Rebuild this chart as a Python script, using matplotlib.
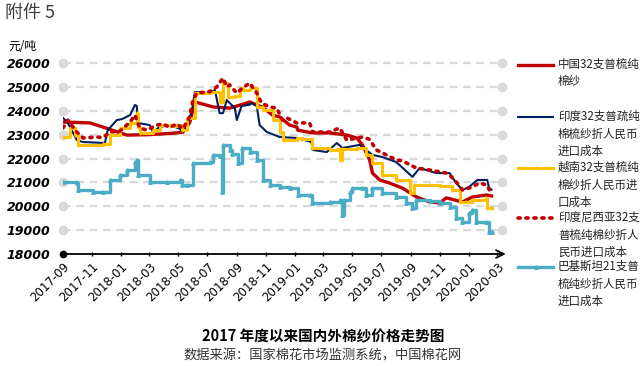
import pandas as pd
import matplotlib.pyplot as plt
import matplotlib.dates as mdates
from matplotlib.lines import Line2D

plt.rcParams['font.family'] = ['DejaVu Sans', 'Noto Sans CJK SC']
CJK = ['Noto Sans CJK SC', 'DejaVu Sans']

# 中国32支普梳纯棉纱
cn_dates = ['2017-09-01', '2017-10-28', '2017-12-04', '2018-01-13', '2018-03-01', '2018-04-15',
            '2018-05-11', '2018-05-25', '2018-06-05', '2018-07-13', '2018-08-17', '2018-09-22',
            '2018-09-28', '2018-10-13', '2018-10-25', '2018-11-15', '2018-11-30', '2018-12-21',
            '2019-01-05', '2019-01-07', '2019-02-07', '2019-03-15', '2019-04-20', '2019-05-11',
            '2019-05-23', '2019-06-07', '2019-06-13', '2019-06-28', '2019-07-19', '2019-08-15',
            '2019-09-13', '2019-10-11', '2019-11-01', '2019-11-15', '2019-12-19', '2020-01-09',
            '2020-02-07', '2020-02-18']
cn_vals = [23530, 23490, 23250, 22980, 23000, 23050,
           23100, 23500, 24370, 24160, 24110, 24320,
           24370, 24240, 24150, 23820, 23740, 23400,
           23320, 23190, 23070, 23070, 22980, 22860,
           22570, 21940, 21390, 21100, 20970, 20760,
           20390, 20180, 20140, 20350, 20180, 20390,
           20470, 20430]

# 印度32支普疏纯棉梳纱折人民币进口成本
in_dates = ['2017-09-01', '2017-09-11', '2017-09-30', '2017-10-13', '2017-11-28', '2017-12-04',
            '2017-12-23', '2018-01-03', '2018-01-20', '2018-01-30', '2018-02-03', '2018-02-05',
            '2018-03-02', '2018-03-09', '2018-03-23', '2018-04-13', '2018-05-04', '2018-05-11',
            '2018-05-19', '2018-05-30', '2018-06-05', '2018-07-06', '2018-07-17', '2018-07-27',
            '2018-08-03', '2018-08-11', '2018-08-28', '2018-09-01', '2018-09-11', '2018-09-28',
            '2018-10-02', '2018-10-13', '2018-10-19', '2018-11-03', '2018-11-30', '2019-01-05',
            '2019-02-05', '2019-02-07', '2019-03-09', '2019-03-30', '2019-04-11', '2019-05-17',
            '2019-05-31', '2019-06-13', '2019-07-04', '2019-08-02', '2019-09-05', '2019-09-20',
            '2019-10-25', '2019-11-22', '2019-12-06', '2019-12-19', '2020-01-02', '2020-01-19',
            '2020-02-09', '2020-02-13', '2020-02-18']
in_vals = [23700, 23500, 22770, 22690, 22650, 23190,
           23610, 23650, 23820, 24240, 24200, 23490,
           23400, 23110, 23320, 23400, 23250, 23110,
           23320, 24030, 24790, 24740, 24870, 23900,
           23900, 24450, 24100, 23610, 24200, 24250,
           24320, 24200, 23400, 23110, 22900, 22860,
           22690, 22360, 22270, 22650, 22440, 22570,
           22350, 22150, 22060, 21850, 21230, 21600,
           21390, 21390, 20970, 20680, 20810, 21100,
           21100, 20760, 20700]

# 越南32支普梳纯棉纱折人民币进口成本
vn_dates = ['2017-09-01', '2017-09-16', '2017-09-26', '2017-10-02', '2017-11-24', '2017-12-09',
            '2017-12-30', '2018-01-20', '2018-02-03', '2018-02-05', '2018-02-09', '2018-03-09',
            '2018-03-23', '2018-04-13', '2018-04-28', '2018-05-09', '2018-05-19', '2018-06-05',
            '2018-06-22', '2018-07-06', '2018-07-27', '2018-08-03', '2018-08-13', '2018-08-28',
            '2018-09-07', '2018-09-13', '2018-09-28', '2018-10-13', '2018-10-25', '2018-11-15',
            '2018-11-30', '2018-12-06', '2019-01-05', '2019-01-17', '2019-02-07', '2019-03-15',
            '2019-03-30', '2019-04-05', '2019-04-11', '2019-05-11', '2019-05-31', '2019-06-13',
            '2019-07-04', '2019-08-02', '2019-08-30', '2019-09-09', '2019-10-11', '2019-11-01',
            '2019-11-28', '2019-12-13', '2019-12-27', '2020-01-09', '2020-02-07', '2020-02-09',
            '2020-02-18']
vn_vals = [22900, 23280, 23000, 22570, 22600, 22980,
           23280, 23490, 23900, 23300, 23070, 23190,
           23400, 23350, 23400, 23190, 23700, 24740,
           24740, 24790, 24370, 25160, 24580, 24600,
           24950, 24870, 24950, 24160, 24030, 23610,
           23110, 22770, 22860, 22800, 22440, 22360,
           22400, 21940, 22400, 22440, 22150, 21810,
           21310, 21100, 20560, 20890, 20890, 20850,
           20680, 20180, 20180, 20260, 20350, 19930,
           19930]

# 印度尼西亚32支普梳纯棉纱折人民币进口成本
id_dates = ['2017-09-01', '2017-09-11', '2017-09-30', '2017-10-13', '2017-11-11', '2017-11-24',
            '2017-12-09', '2017-12-30', '2018-01-20', '2018-01-30', '2018-02-09', '2018-02-24',
            '2018-03-17', '2018-03-30', '2018-04-13', '2018-04-28', '2018-05-11', '2018-05-25',
            '2018-06-01', '2018-06-09', '2018-07-06', '2018-07-21', '2018-08-03', '2018-08-11',
            '2018-08-17', '2018-09-01', '2018-09-13', '2018-09-28', '2018-10-13', '2018-10-23',
            '2018-11-09', '2018-11-24', '2018-12-06', '2018-12-15', '2019-01-05', '2019-02-01',
            '2019-02-07', '2019-03-15', '2019-04-05', '2019-04-20', '2019-05-23', '2019-06-07',
            '2019-06-21', '2019-07-12', '2019-08-02', '2019-08-15', '2019-09-13', '2019-10-11',
            '2019-11-15', '2019-11-22', '2019-12-08', '2019-12-19', '2020-01-09', '2020-01-23',
            '2020-02-09', '2020-02-18']
id_vals = [23280, 23610, 23110, 22860, 22900, 22880,
           23110, 23150, 23530, 23820, 23280, 23190,
           23400, 23450, 23300, 23450, 23250, 23740,
           24450, 24740, 24800, 25000, 25370, 25000,
           25080, 24740, 24950, 25160, 24740, 24320,
           24160, 24110, 23610, 23700, 23490, 23490,
           23110, 23110, 23280, 22770, 22900, 22800,
           22360, 22150, 21940, 21900, 21600, 21520,
           21390, 21310, 20970, 20680, 20810, 20970,
           20890, 20470]

# 巴基斯坦21支普梳纯纱折人民币进口成本
pk_dates = ['2017-09-01', '2017-09-30', '2017-10-02', '2017-11-03', '2017-11-24', '2017-12-09',
            '2017-12-30', '2018-01-13', '2018-01-30', '2018-02-03', '2018-02-05', '2018-03-02',
            '2018-04-07', '2018-05-04', '2018-05-09', '2018-05-19', '2018-06-01', '2018-07-06',
            '2018-07-13', '2018-07-27', '2018-07-31', '2018-08-03', '2018-08-17', '2018-08-21',
            '2018-09-03', '2018-09-11', '2018-09-28', '2018-10-13', '2018-10-25', '2018-11-09',
            '2018-11-30', '2018-12-21', '2019-01-07', '2019-02-01', '2019-02-07', '2019-03-15',
            '2019-04-05', '2019-04-09', '2019-04-15', '2019-04-26', '2019-05-02', '2019-05-23',
            '2019-05-31', '2019-06-13', '2019-07-04', '2019-08-02', '2019-08-23', '2019-09-05',
            '2019-09-13', '2019-10-11', '2019-11-01', '2019-11-22', '2019-12-06', '2019-12-19',
            '2020-01-02', '2020-01-09', '2020-01-17', '2020-02-07', '2020-02-13', '2020-02-18']
pk_vals = [21010, 20980, 20680, 20600, 20600, 21100,
           21310, 21520, 21850, 21940, 21310, 21010,
           21010, 21100, 20890, 20900, 21810, 21850,
           22150, 22100, 20600, 22570, 22360, 22200,
           21810, 22440, 22270, 21940, 21100, 20890,
           20810, 20760, 20470, 20470, 20140, 20180,
           20260, 19630, 20260, 20600, 20760, 20760,
           20470, 20760, 20560, 20390, 20140, 19930,
           20260, 20200, 20140, 19970, 19510, 19340,
           19720, 19840, 19340, 19340, 18920, 18920]

labels = ['中国32支普梳纯\n棉纱',
          '印度32支普疏纯\n棉梳纱折人民币\n进口成本',
          '越南32支普梳纯\n棉纱折人民币进\n口成本',
          '印度尼西亚32支\n普梳纯棉纱折人\n民币进口成本',
          '巴基斯坦21支普\n梳纯纱折人民币\n进口成本']

yticks = [18000, 19000, 20000, 21000, 22000, 23000, 24000, 25000, 26000]

fig = plt.figure(figsize=(6.43, 3.66), dpi=100)
ax = fig.add_axes([63 / 643, 1 - 254 / 366, (502 - 63) / 643, (254 - 63) / 366])

styles = [
    dict(color='#C00000', lw=2.4),
    dict(color='#002060', lw=1.5),
    dict(color='#FFC000', lw=2.2, marker='|', ms=3, drawstyle='steps-post'),
    dict(color='#C00000', lw=2.6, ls=(0, (0.6, 1.6)), dash_capstyle='round'),
    dict(color='#4BACC6', lw=2.4, marker='^', ms=2.5, drawstyle='steps-post'),
]
series = [(cn_dates, cn_vals), (in_dates, in_vals), (vn_dates, vn_vals),
          (id_dates, id_vals), (pk_dates, pk_vals)]
for (d, v), st in zip(series, styles):
    ax.plot(pd.to_datetime(d), v, zorder=3, **st)

x0 = pd.Timestamp('2017-09-01')
x1 = pd.Timestamp('2020-03-11')
ax.set_xlim(x0, x1)
ax.set_ylim(18000, 26000)

# dashed grid with round end caps
for yv in yticks[1:]:
    ax.plot([0, 1], [yv, yv], transform=ax.get_yaxis_transform(), color='#d9d9d9',
            lw=1.6, ls=(0, (3.5, 2.5)), zorder=1, clip_on=False)
    ax.plot([0, 1], [yv, yv], transform=ax.get_yaxis_transform(), ls='none',
            marker='o', ms=6, color='#d9d9d9', zorder=1, clip_on=False)

for s in ax.spines.values():
    s.set_visible(False)
ax.annotate('', xy=(1.015, 0), xytext=(0, 0), xycoords='axes fraction',
            arrowprops=dict(arrowstyle='->', color='black', lw=1.3, mutation_scale=14))
ax.plot([0], [0], transform=ax.transAxes, marker='o', ms=4.5, color='black', clip_on=False)

ax.set_yticks(yticks)
ax.set_yticklabels([str(v) for v in yticks], fontsize=9, fontweight='bold', style='italic')
ax.tick_params(axis='y', length=0, pad=9)

ax.xaxis.set_major_locator(mdates.MonthLocator(bymonth=[1, 3, 5, 7, 9, 11]))
ax.xaxis.set_major_formatter(mdates.DateFormatter('%Y-%m'))
ax.tick_params(axis='x', length=3, width=1, direction='inout', pad=3, labelsize=8.5)
for t in ax.get_xticklabels():
    t.set_rotation(45)
    t.set_ha('right')
    t.set_va('top')
    t.set_rotation_mode('anchor')

fig.text(5 / 643, 1 - 13 / 366, '附件 5', family=CJK, fontsize=13, color='#404040', va='center')
fig.text(8 / 643, 1 - 46 / 366, '元/吨', family=CJK, fontsize=8.5, color='black', va='center')
fig.text(323 / 643, 1 - 336 / 366, '2017 年度以来国内外棉纱价格走势图', family=CJK,
         fontsize=10.5, fontweight='bold', ha='center', va='center')
fig.text(323 / 643, 1 - 356 / 366, '数据来源：国家棉花市场监测系统，中国棉花网', family=CJK,
         fontsize=9.5, color='#333333', ha='center', va='center')

# legend on the right
leg_y = [65, 117, 168, 218, 267]
for lab, st, yy in zip(labels, styles, leg_y):
    kw = dict(st)
    kw.pop('drawstyle', None)
    if 'marker' in kw:
        kw['markevery'] = [1]
    ln = Line2D([518 / 643, 535.5 / 643, 553 / 643], [1 - yy / 366] * 3,
                transform=fig.transFigure, **kw)
    fig.add_artist(ln)
    fig.text(558 / 643, 1 - (yy - 7) / 366, lab, family=CJK, fontsize=8.3,
             color='#222222', va='top', linespacing=1.45)

plt.savefig('out.png', dpi=100)
